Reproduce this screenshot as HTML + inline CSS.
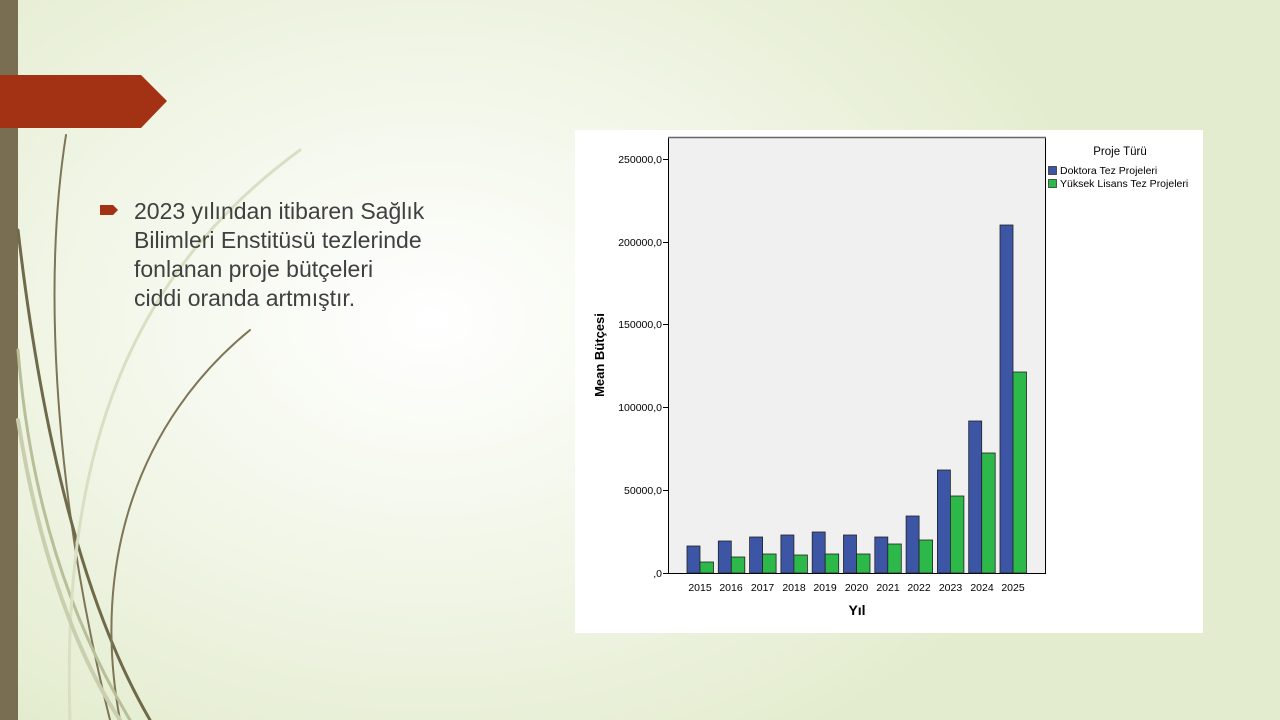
<!DOCTYPE html>
<html><head><meta charset="utf-8"><style>
body{margin:0;width:1280px;height:720px;overflow:hidden;position:relative;font-family:"Liberation Sans",sans-serif;
background:radial-gradient(ellipse 700px 500px at 430px 320px,#ffffff 0%,#f3f7ea 45%,#e3ecce 100%);}
</style></head><body>
<svg width="1280" height="720" style="position:absolute;left:0;top:0">
<rect x="0" y="0" width="18" height="720" fill="#7a6e52"/>
<g fill="none" stroke-linecap="round">
<path d="M66 135 C40 300 60 520 110 720" stroke="#7d7556" stroke-width="2"/>
<path d="M18 230 C40 420 80 600 150 720" stroke="#6f6a4a" stroke-width="3"/>
<path d="M250 330 C140 420 90 560 120 720" stroke="#7d7556" stroke-width="2"/>
<path d="M18 350 C30 500 70 620 130 720" stroke="#b8bf98" stroke-width="3"/>
<path d="M300 150 C150 260 60 420 70 720" stroke="#d8dfc3" stroke-width="3"/>
<path d="M18 420 C40 560 80 660 120 720" stroke="#c9cfae" stroke-width="4"/>
</g>
<polygon points="0,75 141,75 167,101 141,128 0,128" fill="#a33214"/>
<polygon points="100,205 113,205 118,210 113,215 100,215" fill="#a33214"/>
</svg>
<div style="position:absolute;left:134px;top:197px;font-size:23px;line-height:29px;color:#404040;white-space:nowrap">2023 yılından itibaren Sağlık<br>Bilimleri Enstitüsü tezlerinde<br>fonlanan proje bütçeleri<br>ciddi oranda artmıştır.</div>
<svg width="1280" height="720" style="position:absolute;left:0;top:0" font-family="Liberation Sans, sans-serif">
<rect x="575" y="130" width="628" height="503" fill="#fff"/>
<rect x="668.5" y="137.5" width="377" height="436" fill="#f0f0f0" stroke="#000" stroke-width="1"/>
<line x1="668" y1="137.5" x2="1046" y2="137.5" stroke="#666" stroke-width="1.5"/>
<g font-size="10.5" text-anchor="end" fill="#000">
<line x1="663" y1="573.5" x2="668" y2="573.5" stroke="#000"/><text x="662" y="577">,0</text>
<line x1="663" y1="490.5" x2="668" y2="490.5" stroke="#000"/><text x="662" y="494">50000,0</text>
<line x1="663" y1="407.5" x2="668" y2="407.5" stroke="#000"/><text x="662" y="411">100000,0</text>
<line x1="663" y1="324.5" x2="668" y2="324.5" stroke="#000"/><text x="662" y="328">150000,0</text>
<line x1="663" y1="242.5" x2="668" y2="242.5" stroke="#000"/><text x="662" y="246">200000,0</text>
<line x1="663" y1="159.5" x2="668" y2="159.5" stroke="#000"/><text x="662" y="163">250000,0</text>
</g>
<text transform="translate(604,355) rotate(-90)" font-size="13" font-weight="bold" text-anchor="middle">Mean Bütçesi</text>
<text x="857" y="615" font-size="14" font-weight="bold" text-anchor="middle">Yıl</text>
<g stroke="#222" stroke-width="0.8">
<rect x="687" y="546" width="13" height="27" fill="#3d55a5"/><rect x="700" y="562" width="13.5" height="11" fill="#2db84a"/>
<rect x="718.3" y="541" width="13" height="32" fill="#3d55a5"/><rect x="731.3" y="557" width="13.5" height="16" fill="#2db84a"/>
<rect x="749.6" y="537" width="13" height="36" fill="#3d55a5"/><rect x="762.6" y="554" width="13.5" height="19" fill="#2db84a"/>
<rect x="780.9" y="535" width="13" height="38" fill="#3d55a5"/><rect x="793.9" y="555" width="13.5" height="18" fill="#2db84a"/>
<rect x="812.2" y="532" width="13" height="41" fill="#3d55a5"/><rect x="825.2" y="554" width="13.5" height="19" fill="#2db84a"/>
<rect x="843.5" y="535" width="13" height="38" fill="#3d55a5"/><rect x="856.5" y="554" width="13.5" height="19" fill="#2db84a"/>
<rect x="874.8" y="537" width="13" height="36" fill="#3d55a5"/><rect x="887.8" y="544" width="13.5" height="29" fill="#2db84a"/>
<rect x="906.1" y="516" width="13" height="57" fill="#3d55a5"/><rect x="919.1" y="540" width="13.5" height="33" fill="#2db84a"/>
<rect x="937.4" y="470" width="13" height="103" fill="#3d55a5"/><rect x="950.4" y="496" width="13.5" height="77" fill="#2db84a"/>
<rect x="968.7" y="421" width="13" height="152" fill="#3d55a5"/><rect x="981.7" y="453" width="13.5" height="120" fill="#2db84a"/>
<rect x="1000" y="225" width="13" height="348" fill="#3d55a5"/><rect x="1013" y="372" width="13.5" height="201" fill="#2db84a"/>
</g>
<g font-size="10.5" text-anchor="middle">
<text x="700" y="591">2015</text><text x="731" y="591">2016</text><text x="762.6" y="591">2017</text><text x="794" y="591">2018</text><text x="825" y="591">2019</text><text x="856.5" y="591">2020</text><text x="888" y="591">2021</text><text x="919" y="591">2022</text><text x="950.5" y="591">2023</text><text x="982" y="591">2024</text><text x="1013" y="591">2025</text>
</g>
<text x="1120" y="155" font-size="11.5" text-anchor="middle">Proje Türü</text>
<rect x="1048.5" y="166.5" width="8" height="8" fill="#3d55a5" stroke="#222" stroke-width="0.7"/>
<text x="1060" y="174" font-size="10.5">Doktora Tez Projeleri</text>
<rect x="1048.5" y="179.5" width="8" height="8" fill="#2db84a" stroke="#222" stroke-width="0.7"/>
<text x="1060" y="187" font-size="10.5">Yüksek Lisans Tez Projeleri</text>
</svg>
</body></html>
